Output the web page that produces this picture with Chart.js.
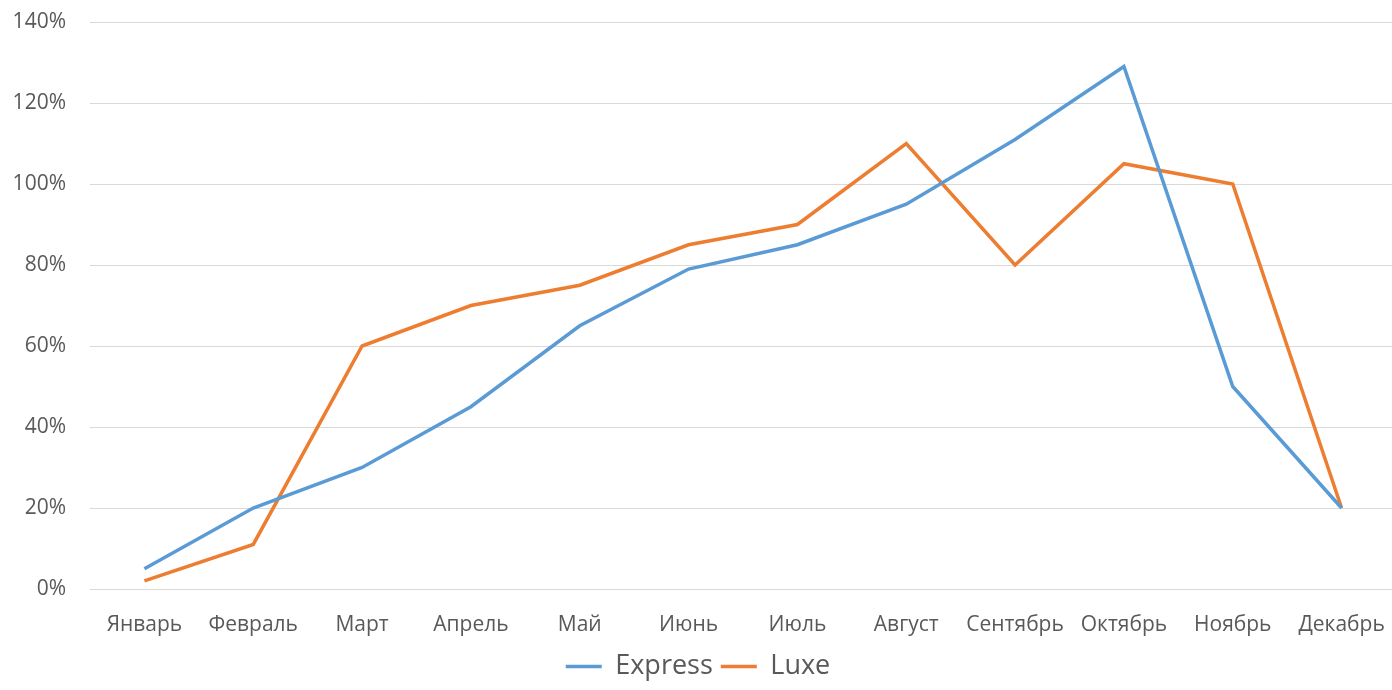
<!DOCTYPE html>
<html>
<head>
<meta charset="utf-8">
<script src="https://cdn.jsdelivr.net/npm/chart.js@4.4.1/dist/chart.umd.min.js"></script>
<style>
html,body{margin:0;padding:0;background:#fff;overflow:hidden;}
#wrap{width:1392px;height:690px;position:relative;overflow:hidden;}
</style>
</head>
<body>
<div id="wrap"><canvas id="c" width="1396" height="690"></canvas></div>
<script>
const categories = ["Январь","Февраль","Март","Апрель","Май","Июнь","Июль","Август","Сентябрь","Октябрь","Ноябрь","Декабрь"];
const expressValues = [5, 20, 30, 45, 65, 79, 85, 95, 111, 129, 50, 20];
const luxeValues = [2, 11, 60, 70, 75, 85, 90, 110, 80, 105, 100, 20];
const yTicks = [0, 20, 40, 60, 80, 100, 120, 140];

const FONT = "'Open Sans', sans-serif";
const TEXT = "#595959";

new Chart(document.getElementById('c'), {
  type: 'line',
  data: {
    labels: categories,
    datasets: [
      { label: 'Express', data: expressValues, borderColor: '#5B9BD5', backgroundColor: '#5B9BD5', borderWidth: 3.5, pointRadius: 0, tension: 0, pointStyle: 'line' },
      { label: 'Luxe', data: luxeValues, borderColor: '#ED7D31', backgroundColor: '#ED7D31', borderWidth: 3.5, pointRadius: 0, tension: 0, pointStyle: 'line' }
    ]
  },
  options: {
    responsive: false,
    animation: false,
    layout: { padding: { top: 22, right: 0, left: 0, bottom: 0 } },
    plugins: {
      tooltip: { enabled: false },
      legend: {
        position: 'bottom',
        labels: {
          usePointStyle: true,
          pointStyleWidth: 36,
          font: { family: FONT, size: 27 },
          color: TEXT,
          padding: 8
        }
      }
    },
    scales: {
      x: {
        offset: true,
        grid: { display: false },
        border: { display: false },
        ticks: { font: { family: FONT, size: 21 }, color: TEXT, padding: 15, maxRotation: 0, autoSkip: false },
        afterFit: (s) => { s.height = 56; s.paddingLeft = 0; s.paddingRight = 0; }
      },
      y: {
        min: 0, max: 140,
        afterBuildTicks: (s) => { s.ticks = yTicks.map(v => ({ value: v })); },
        grid: { color: '#D9D9D9', lineWidth: 1, drawTicks: false },
        border: { display: false },
        ticks: { font: { family: FONT, size: 21 }, color: TEXT, padding: 24, callback: (v) => v + '%' },
        afterFit: (s) => { s.width = 90; s.paddingTop = 0; s.paddingBottom = 0; }
      }
    }
  }
});
</script>
</body>
</html>
